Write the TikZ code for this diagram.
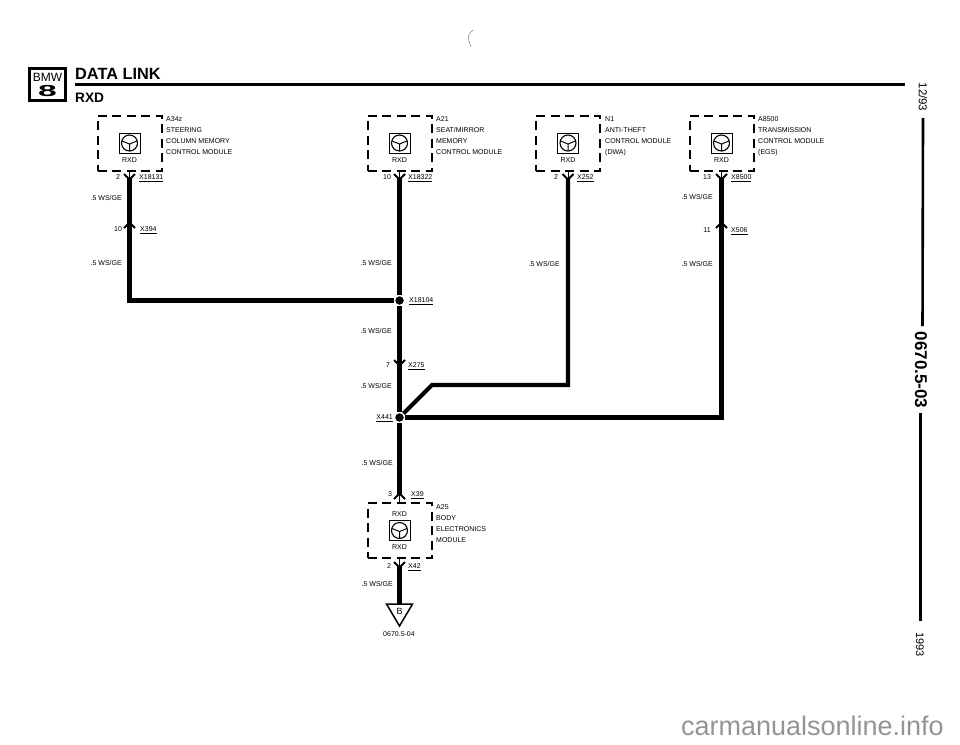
\documentclass[tikz,border=0pt]{standalone}
\usepackage{fontspec}
\setmainfont{Liberation Sans}
\tikzset{
  txt/.style={font=\fontsize{7}{11}\selectfont,inner sep=0pt},
  modlabel/.style={txt,anchor=north west,align=left},
  gauge/.style={txt,anchor=east},
  xref/.style={txt,anchor=base west,yshift=-2.4pt},
  modbox/.style={draw,line width=2pt,dash pattern=on 9pt off 5.5pt,minimum width=64pt,minimum height=55pt,inner sep=0pt},
  wire/.style={line width=4.2pt},
  junction/.style={circle,fill=black,draw=white,line width=1.2pt,minimum size=10pt,inner sep=0pt},
  wheel/.pic={
    \draw[line width=0.8pt] (-10.5,-10) rectangle (10.5,10);
    \draw[line width=1.1pt] (0,0) circle (8);
    \draw[line width=1pt] (-7.5,-2) -- (0,1) -- (7.5,-2) (0,1) -- (0,8);
  },
  conn/.pic={
    \draw[line width=2pt,line join=miter] (-5.5,-4) -- (0,1.5) -- (5.5,-4);
  }
}
\begin{document}
\begin{tikzpicture}[x=1pt,y=-1pt]
\useasboundingbox (0,0) rectangle (960,744);
% header
\draw[line width=3pt] (29.5,68.5) rectangle (65.5,100.5);
\node[inner sep=0pt,font=\fontsize{12}{12}\selectfont] (bmw) at (47.5,77.5) {BMW};
\node[inner sep=0pt,font=\bfseries\fontsize{16}{16}\selectfont,xscale=2.1] (eight) at (47.5,91) {8};
\node[inner sep=0pt,anchor=base west,font=\bfseries\fontsize{16.3}{16}\selectfont] (title) at (75,79.5) {DATA LINK};
\node[inner sep=0pt,anchor=base west,font=\bfseries\fontsize{13.7}{14}\selectfont] (sub) at (75,102) {RXD};
\draw[line width=2.8pt] (75,84.5) -- (905,84.5);
% margin
\node[rotate=-90,inner sep=0pt,font=\fontsize{11.5}{11}\selectfont] (date) at (923,97) {12/93};
\node[rotate=-90,inner sep=0pt,font=\bfseries\fontsize{17}{17}\selectfont] (page) at (921,370) {0670.5-03};
\node[rotate=-90,inner sep=0pt,font=\fontsize{11}{11}\selectfont] (year) at (920,644.5) {1993};
\draw[line width=2.6pt] (923,118) -- (922.5,326);
\draw[line width=2.6pt] (920.5,413) -- (920.5,621);
% modules
\foreach \nm/\px/\py in {A342/129.5/143,A21/399.5/143,N1/568/143,A8500/721.5/143,A25/399.5/530.5}{
  \node[modbox] (\nm) at (\px,\py) {};
  \path (\px,\py) pic {wheel};
  \node[txt] at (\px,\py+17) {RXD};
}
\node[txt] (rxdtop) at (399.5,514) {RXD};
\node[modlabel] (lblA342) at (166,116) {A34z\\STEERING\\COLUMN MEMORY\\CONTROL MODULE};
\node[modlabel] (lblA21) at (436,116) {A21\\SEAT/MIRROR\\MEMORY\\CONTROL MODULE};
\node[modlabel] (lblN1) at (605,116) {N1\\ANTI-THEFT\\CONTROL MODULE\\(DWA)};
\node[modlabel] (lblA8500) at (758,116) {A8500\\TRANSMISSION\\CONTROL MODULE\\(EGS)};
\node[modlabel] (lblA25) at (436,504) {A25\\BODY\\ELECTRONICS\\MODULE};
% connector points
\path (129.5,178) coordinate (c18131) (129.5,224) coordinate (c394)
  (399.5,178) coordinate (c18322) (399.5,364) coordinate (c275)
  (568,178) coordinate (c252) (721.5,178) coordinate (c8500) (721.5,224) coordinate (c506)
  (399.5,495) coordinate (c39) (399.5,566) coordinate (c42)
  (129.5,300.5) coordinate (cnrL) (568,385) coordinate (cnrN) (432,385) coordinate (bend)
  (721.5,417.5) coordinate (cnrT) (399.5,604) coordinate (trg);
\node[junction] (j18104) at (399.5,300.5) {};
\node[junction] (j441) at (399.5,417.5) {};
% wires
\draw[wire] (c18131) -- (c394);
\draw[wire,line join=miter] (c394) -- (cnrL) -- (j18104);
\draw[wire] (c18322) -- (j18104);
\draw[wire] (j18104) -- (c275);
\draw[wire] (c275) -- (j441);
\draw[wire] (j441) -- (c39);
\draw[wire] (c42) -- (trg);
\draw[wire,line join=miter] (c252) -- (cnrN) -- (bend) -- (j441);
\draw[wire] (c8500) -- (c506);
\draw[wire,line join=miter] (c506) -- (cnrT) -- (j441);
% stubs
\draw[line width=1pt] (A342.south) -- (c18131);
\draw[line width=1pt] (A21.south) -- (c18322);
\draw[line width=1pt] (N1.south) -- (c252);
\draw[line width=1pt] (A8500.south) -- (c8500);
\draw[line width=1pt] (A25.north) -- (c39);
\draw[line width=1pt] (A25.south) -- (c42);
\foreach \c in {c18131,c18322,c252,c8500,c275,c42}{
  \path (\c) pic {conn};
}
\foreach \c in {c394,c506,c39}{
  \path (\c) pic[yscale=-1] {conn};
}
% pins and connector names
\node[txt] (p1) at (118,177) {2};
\node[xref] (x18131) at (139,177) {\underline{X18131}};
\node[txt] (p2) at (118,229) {10};
\node[xref] (x394) at (140,229.5) {\underline{X394}};
\node[txt] (p3) at (387,177) {10};
\node[xref] (x18322) at (408,177) {\underline{X18322}};
\node[xref] (x18104) at (409,300.5) {\underline{X18104}};
\node[txt] (p4) at (388,365) {7};
\node[xref] (x275) at (408,365) {\underline{X275}};
\node[txt,anchor=base east,yshift=-2.4pt] (x441) at (393,417.5) {\underline{X441}};
\node[txt] (p5) at (390,494) {3};
\node[xref] (x39) at (411,494) {\underline{X39}};
\node[txt] (p6) at (389,566) {2};
\node[xref] (x42) at (408,566) {\underline{X42}};
\node[txt] (p7) at (556,177) {2};
\node[xref] (x252) at (577,177) {\underline{X252}};
\node[txt] (p8) at (707,177) {13};
\node[xref] (x8500) at (731,177) {\underline{X8500}};
\node[txt] (p9) at (707,230) {11};
\node[xref] (x506) at (731,230.5) {\underline{X506}};
% wire colours
\foreach \xe/\ye in {122/198,122/263,392/263,392/331,392/386,393/463,393/584,560/264,713/197,713/264}{
  \node[gauge] at (\xe,\ye) {.5 WS/GE};
}
% ground triangle
\draw[line width=1.5pt,line join=miter] (386.5,604) -- (412.5,604) -- (399.5,626) -- cycle;
\node[inner sep=0pt,font=\fontsize{9}{9}\selectfont] (tB) at (399.5,611) {B};
\node[txt] (fig) at (399,634) {0670.5-04};
% scan mark and footer
\draw[gray,line width=0.5pt] (473,30) .. controls (467,36) .. (471,47);
\node[inner sep=0pt,anchor=base east,text=black!42,font=\fontsize{27}{27}\selectfont] (site) at (944,735) {carmanualsonline.info};
\end{tikzpicture}
\end{document}
